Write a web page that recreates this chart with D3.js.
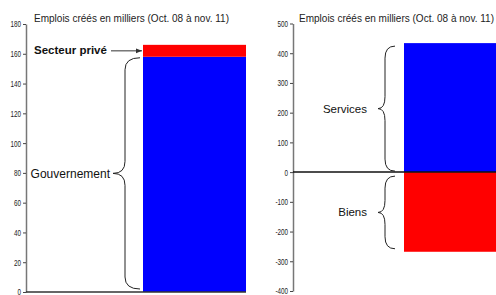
<!DOCTYPE html>
<html>
<head>
<meta charset="utf-8">
<script src="https://cdn.jsdelivr.net/npm/d3@7"></script>
<style>
  body { margin: 0; background: #fff; }
  svg { display: block; }
  .tick text { font-family: "Liberation Sans", Arial, sans-serif; font-size: 9px; fill: #222; }
</style>
</head>
<body>
<div id="vis"></div>
<script>
// left panel: total jobs split by sector
const sectorNames = ["Gouvernement", "Secteur privé"];
const sectorValues = [158, 8];
const leftTicks = [0, 20, 40, 60, 80, 100, 120, 140, 160, 180];

// right panel: services vs goods
const industryNames = ["Services", "Biens"];
const industryValues = [434, -268];
const rightTicks = [-400, -300, -200, -100, 0, 100, 200, 300, 400, 500];

const titleText = "Emplois créés en milliers (Oct. 08 à nov. 11)";

let width = 496;
let height = 295;

var svg = d3.select("#vis")
    .append("svg")
    .attr("width", width)
    .attr("height", height);

svg.append("defs").append("clipPath").attr("id", "clipLeft")
    .append("rect").attr("x", 0).attr("y", 0).attr("width", 246).attr("height", height);

svg.append("defs").append("marker")
    .attr("id", "arrow")
    .attr("viewBox", "0 0 10 10")
    .attr("refX", 10).attr("refY", 5)
    .attr("markerWidth", 6).attr("markerHeight", 6)
    .attr("orient", "auto")
    .append("path").attr("d", "M0,1 L10,5 L0,9 z").attr("fill", "#333");

// curly brace between y1 and y2, ends at xEnd, spine at xSpine, tip at xTip
function brace(g, xEnd, xSpine, xTip, y1, y2) {
    var ym = (y1 + y2) / 2;
    var r = Math.min(12, (y2 - y1) / 4);
    var d = "M" + xEnd + "," + y1 +
        " Q" + xSpine + "," + y1 + " " + xSpine + "," + (y1 + r) +
        " L" + xSpine + "," + (ym - r) +
        " Q" + xSpine + "," + ym + " " + xTip + "," + ym +
        " Q" + xSpine + "," + ym + " " + xSpine + "," + (ym + r) +
        " L" + xSpine + "," + (y2 - r) +
        " Q" + xSpine + "," + y2 + " " + xEnd + "," + y2;
    g.append("path").attr("d", d).attr("fill", "none")
        .attr("stroke", "#222").attr("stroke-width", 1);
}

// narrow tick labels, like the condensed font of the original
function styleAxis(g) {
    g.select(".domain").attr("stroke", "#777").attr("stroke-width", 1.5);
    g.selectAll(".tick line").attr("stroke", "#444");
    g.selectAll(".tick text")
        .attr("x", 0)
        .attr("transform", "translate(-5,0) scale(0.7,1)");
}

function title(g, x) {
    g.append("text")
        .attr("x", x).attr("y", 22)
        .attr("textLength", 195)
        .attr("lengthAdjust", "spacingAndGlyphs")
        .style("font-family", "'Liberation Sans', Arial, sans-serif")
        .style("font-size", "10.5px").attr("fill", "#222")
        .text(titleText);
}

// ---------- left panel ----------
var left = svg.append("g");

var yL = d3.scaleLinear().domain([0, 180]).range([292, 24]);
var xL = d3.scaleBand().domain(["", "total"]).range([26, 260]);

var stackL = [];
var acc = 0;
sectorValues.forEach(function (v, i) {
    stackL.push({ name: sectorNames[i], y0: acc, y1: acc + v });
    acc += v;
});

left.append("g").attr("clip-path", "url(#clipLeft)")
    .selectAll("rect")
    .data(stackL)
    .enter().append("rect")
    .attr("x", xL("total"))
    .attr("width", xL.bandwidth())
    .attr("y", function (d) { return yL(d.y1); })
    .attr("height", function (d) { return yL(d.y0) - yL(d.y1); })
    .attr("fill", function (d, i) { return i === 0 ? "#0000ff" : "#ff0000"; });

left.append("g")
    .attr("transform", "translate(26,0)")
    .call(d3.axisLeft(yL).tickValues(leftTicks).tickSize(3).tickSizeOuter(0)
        .tickFormat(function (d) { return String(d); }))
    .call(styleAxis);

left.append("line")
    .attr("x1", 26).attr("x2", 246)
    .attr("y1", yL(0)).attr("y2", yL(0))
    .attr("stroke", "#333").attr("stroke-width", 1.5);

title(left, 34);

// Secteur privé label + arrow
left.append("text")
    .attr("x", 34).attr("y", yL(stackL[1].y1) + 9)
    .style("font-family", "'Liberation Sans', Arial, sans-serif")
    .style("font-size", "11.5px").style("font-weight", "bold").attr("fill", "#111")
    .text(sectorNames[1]);

left.append("line")
    .attr("x1", 111).attr("x2", xL("total") - 1)
    .attr("y1", yL(stackL[1].y1) + 6).attr("y2", yL(stackL[1].y1) + 6)
    .attr("stroke", "#333").attr("stroke-width", 1)
    .attr("marker-end", "url(#arrow)");

// Gouvernement brace
brace(left, xL("total") - 3, 125, 113, yL(stackL[0].y1) + 1, yL(stackL[0].y0) - 3);
left.append("text")
    .attr("x", 110).attr("y", (yL(stackL[0].y1) + yL(stackL[0].y0)) / 2 + 4)
    .attr("text-anchor", "end")
    .style("font-family", "'Liberation Sans', Arial, sans-serif")
    .style("font-size", "12px").attr("fill", "#111")
    .text(sectorNames[0]);

// ---------- right panel ----------
var right = svg.append("g");

var yR = d3.scaleLinear().domain([-400, 500]).range([291, 23.5]);
var xR = d3.scaleBand().domain(["", "total"]).range([293, 515]);

right.selectAll("rect")
    .data(industryValues)
    .enter().append("rect")
    .attr("x", xR("total"))
    .attr("width", xR.bandwidth())
    .attr("y", function (d) { return yR(Math.max(0, d)); })
    .attr("height", function (d) { return Math.abs(yR(d) - yR(0)); })
    .attr("fill", function (d, i) { return i === 0 ? "#0000ff" : "#ff0000"; });

right.append("g")
    .attr("transform", "translate(293,0)")
    .call(d3.axisLeft(yR).tickValues(rightTicks).tickSize(3).tickSizeOuter(0)
        .tickFormat(function (d) { return String(d); }))
    .call(styleAxis);

right.append("line")
    .attr("x1", 293).attr("x2", width)
    .attr("y1", yR(0)).attr("y2", yR(0))
    .attr("stroke", "#111").attr("stroke-width", 1.5);

title(right, 299);

industryValues.forEach(function (v, i) {
    var top = yR(Math.max(0, v));
    var bot = yR(Math.min(0, v));
    var y1 = i === 0 ? top + 3 : top + 4;
    var y2 = i === 0 ? bot - 1 : bot - 3;
    brace(right, xR("total") - 9, 385, 378, y1, y2);
    right.append("text")
        .attr("x", 367).attr("y", (y1 + y2) / 2 + 4)
        .attr("text-anchor", "end")
        .style("font-family", "'Liberation Sans', Arial, sans-serif")
        .style("font-size", "11.5px").attr("fill", "#111")
        .text(industryNames[i]);
});
</script>
</body>
</html>
